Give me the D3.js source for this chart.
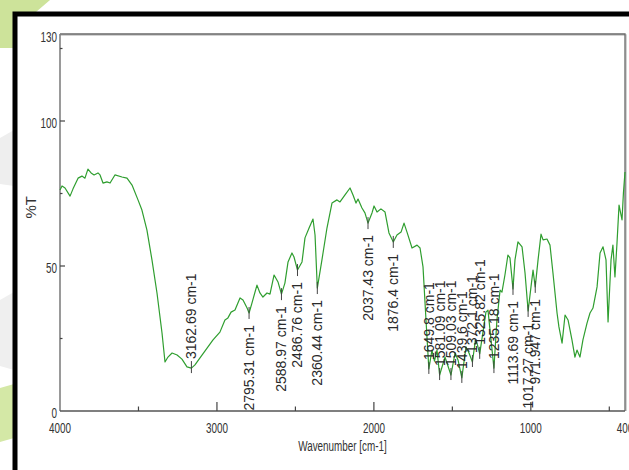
<!DOCTYPE html>
<html>
<head>
<meta charset="utf-8">
<script src="https://cdn.jsdelivr.net/npm/d3@7"></script>
<style>
body { margin: 0; background: #fff; }
svg { display: block; }
</style>
</head>
<body>
<svg id="chart" width="629" height="470"></svg>
<script>
// spectrum
var wavenumber = [4000, 3987, 3968, 3936, 3917, 3885, 3860, 3841, 3822, 3802, 3783, 3758, 3745, 3726, 3701, 3681,
  3650, 3605, 3573, 3541, 3503, 3478, 3446, 3414, 3382, 3350, 3331, 3312, 3286, 3254, 3223, 3191, 3162.69, 3140,
  3108, 3063, 3025, 2981, 2949, 2930, 2910, 2885, 2853, 2834, 2808, 2795.31, 2777, 2745, 2726, 2707, 2681, 2662,
  2636, 2611, 2588.97, 2567, 2547, 2522, 2509, 2486.76, 2458, 2439, 2413, 2388, 2375, 2360.44, 2331, 2299, 2267,
  2235, 2216, 2184, 2152, 2133, 2114, 2101, 2076, 2057, 2037.43, 2012, 1999, 1980, 1955, 1929, 1904, 1876.4, 1853,
  1827, 1808, 1789, 1757, 1725, 1706, 1687, 1668, 1649.8, 1630, 1614, 1598, 1581.09, 1547, 1509.03, 1483, 1464,
  1439.6, 1413, 1394, 1372.1, 1353, 1340, 1325.82, 1305, 1286, 1273, 1260, 1235.18, 1216, 1196, 1184, 1165, 1146,
  1133, 1113.69, 1101, 1082, 1056, 1037, 1017.27, 999, 986, 971.947, 954, 935, 922, 897, 878, 859, 833, 821, 801,
  782, 763, 738, 719, 706, 687, 668, 642, 623, 604, 578, 559, 540, 521, 508, 489, 477, 464, 451, 438, 419, 410, 400];
var transmittance = [76.2, 77.6, 76.9, 74.1, 76.6, 80.3, 81.0, 80.3, 83.4, 82.1, 81.4, 82.1, 81.4, 78.6, 79.0, 78.6,
  81.4, 80.7, 80.3, 77.9, 72.8, 69.3, 62.4, 52.1, 40.7, 26.9, 16.9, 18.6, 20.0, 19.3, 17.9, 15.2, 14.8, 15.9,
  18.3, 21.7, 24.5, 27.2, 31.4, 32.1, 34.1, 34.8, 39.0, 38.3, 35.5, 33.8, 37.2, 43.4, 40.7, 39.3, 40.7, 40.3,
  46.9, 44.5, 40.3, 44.1, 51.4, 54.5, 53.1, 48.6, 51.4, 59.7, 63.1, 66.2, 60.7, 42.4, 52.1, 63.1, 71.7,
  72.8, 72.1, 74.5, 76.9, 74.5, 71.7, 73.1, 70.0, 68.3, 64.8, 68.3, 70.7, 68.6, 69.7, 68.6, 61.4, 58.3, 60.7,
  61.7, 64.8, 61.7, 56.2, 57.2, 56.2, 49.7, 31.4, 14.5, 21.0, 17.2, 21.0, 12.4, 18.6, 12.4, 20.0, 17.6,
  11.4, 22.1, 20.0, 16.9, 24.5, 22.8, 19.7, 27.2, 34.1, 34.8, 27.9, 14.8, 31.4, 41.7, 41.0, 46.9, 53.8,
  52.8, 42.1, 52.1, 58.3, 56.6, 47.6, 34.5, 42.8, 48.6, 42.8, 52.1, 61.0, 59.0, 59.3, 57.2, 47.6, 33.8, 29.0, 23.4,
  33.1, 31.4, 24.5, 18.6, 21.0, 18.6, 24.5, 30.3, 33.8, 35.5, 42.8, 54.5, 56.6, 52.1, 30.7, 52.1, 57.2, 46.2, 57.9, 71.0, 65.9, 75.2, 82.4];

// picked peaks
var peakWn = [3162.69, 2795.31, 2588.97, 2486.76, 2360.44, 2037.43, 1876.4, 1649.8, 1581.09, 1509.03,
  1439.6, 1372.1, 1325.82, 1235.18, 1113.69, 1017.27, 971.947];
var peakLabels = ["3162.69 cm-1", "2795.31 cm-1", "2588.97 cm-1", "2486.76 cm-1", "2360.44 cm-1", "2037.43 cm-1",
  "1876.4 cm-1", "1649.8 cm-1", "1581.09 cm-1", "1509.03 cm-1", "1439.6 cm-1", "1372.1 cm-1", "1325.82 cm-1",
  "1235.18 cm-1", "1113.69 cm-1", "1017.27 cm-1", "971.947 cm-1"];
var peakSide = ["up", "down", "down", "down", "down", "down", "down", "up", "up", "up",
  "up", "up", "up", "up", "down", "down", "down"];

var yTicks = [0, 50, 100, 130];
var yMinor = [25, 75, 125];
var xTicks = [4000, 3000, 2000, 1000, 400];
var xMinor = [3500, 2500, 1500, 500];

var svg = d3.select("#chart");
var x = d3.scaleLinear().domain([4000, 400]).range([60, 625]);
var y = d3.scaleLinear().domain([0, 130]).range([411, 34]);

// slide background bits behind the picture
svg.append("path")
  .attr("d", "M0,0 H50 L36,12 L14,48 L0,48 Z")
  .attr("fill", "#cde39a");
svg.append("path")
  .attr("d", "M0,388 L14,384 L14,438 L0,442 Z")
  .attr("fill", "#d4e8a6");
svg.append("path")
  .attr("d", "M0,138 L14,130 L14,186 L0,184 Z")
  .attr("fill", "#eeeeee");
svg.append("path")
  .attr("d", "M0,300 L14,292 L14,370 L0,366 Z")
  .attr("fill", "#efefef");

svg.append("rect")
  .attr("x", 15).attr("y", 14)
  .attr("width", 700).attr("height", 600)
  .attr("fill", "#fff")
  .attr("stroke", "#000")
  .attr("stroke-width", 5);

var g = svg.append("g");

// frame
g.append("path")
  .attr("d", "M" + x(4000) + "," + (y(130) + 1) + " H" + (x(400) + 1) + " V" + y(0))
  .attr("fill", "none").attr("stroke", "#c4c4c4").attr("stroke-width", 1.5);
g.append("path")
  .attr("d", "M" + x(4000) + "," + y(130) + " H" + x(400) + " V" + y(0))
  .attr("fill", "none").attr("stroke", "#6a6a6a").attr("stroke-width", 1.3);

// axes lines
g.append("line")
  .attr("x1", x(4000)).attr("x2", x(4000))
  .attr("y1", y(130)).attr("y2", y(0))
  .attr("stroke", "#808080").attr("stroke-width", 1.6);
g.append("line")
  .attr("x1", x(4000)).attr("x2", x(400))
  .attr("y1", y(0)).attr("y2", y(0))
  .attr("stroke", "#555").attr("stroke-width", 1.6);

// y ticks, pointing in
g.selectAll(".ytick").data([50, 100]).enter().append("line")
  .attr("x1", x(4000)).attr("x2", x(4000) + 5)
  .attr("y1", function(d) { return y(d); }).attr("y2", function(d) { return y(d); })
  .attr("stroke", "#444").attr("stroke-width", 1.2);
g.selectAll(".yminor").data(yMinor).enter().append("line")
  .attr("x1", x(4000)).attr("x2", x(4000) + 2.5)
  .attr("y1", function(d) { return y(d); }).attr("y2", function(d) { return y(d); })
  .attr("stroke", "#444").attr("stroke-width", 1.2);

// x ticks, pointing up
g.selectAll(".xtick").data([3000, 2000, 1000]).enter().append("line")
  .attr("x1", function(d) { return x(d); }).attr("x2", function(d) { return x(d); })
  .attr("y1", y(0)).attr("y2", y(0) - 9)
  .attr("stroke", "#444").attr("stroke-width", 1.2);
g.selectAll(".xminor").data(xMinor).enter().append("line")
  .attr("x1", function(d) { return x(d); }).attr("x2", function(d) { return x(d); })
  .attr("y1", y(0)).attr("y2", y(0) - 4.5)
  .attr("stroke", "#444").attr("stroke-width", 1.2);

// tick labels (tall narrow face)
function squish(sel) {
  return sel.attr("font-family", "'Liberation Sans', Arial, sans-serif")
    .attr("font-size", 15)
    .attr("fill", "#333");
}
squish(g.selectAll(".ylab").data(yTicks).enter().append("text"))
  .attr("transform", function(d) { return "translate(57," + (y(d) + (d == 130 ? 3 : 1.5)) + ") scale(0.66,1)"; })
  .attr("text-anchor", "end")
  .attr("dy", "0.36em")
  .text(function(d) { return d; });
squish(g.selectAll(".xlab").data(xTicks).enter().append("text"))
  .attr("transform", function(d) { return "translate(" + x(d) + ",433) scale(0.66,1)"; })
  .attr("text-anchor", "middle")
  .text(function(d) { return d; });
squish(g.append("text"))
  .attr("transform", "translate(" + ((x(4000) + x(400)) / 2) + ",451) scale(0.66,1)")
  .attr("text-anchor", "middle")
  .text("Wavenumber [cm-1]");

g.append("text")
  .attr("transform", "translate(36," + (y(75) + 25) + ") rotate(-90)")
  .attr("font-family", "'Liberation Sans', Arial, sans-serif")
  .attr("font-size", 15)
  .attr("fill", "#333")
  .text("%T");

// spectrum
var points = wavenumber.map(function(w, i) { return [w, transmittance[i]]; });
var line = d3.line()
  .x(function(d) { return x(d[0]); })
  .y(function(d) { return y(d[1]); });
g.append("path")
  .datum(points)
  .attr("d", line)
  .attr("fill", "none")
  .attr("stroke", "#2f9e2f")
  .attr("stroke-width", 1.2)
  .attr("stroke-linejoin", "round");

// peak markers and labels
var peaks = peakWn.map(function(w, i) {
  return { wn: w, t: transmittance[wavenumber.indexOf(w)], label: peakLabels[i], side: peakSide[i] };
});
var pk = g.selectAll(".peak").data(peaks).enter().append("g")
  .attr("transform", function(d) { return "translate(" + x(d.wn) + "," + y(d.t) + ")"; });
pk.append("line")
  .attr("x1", 0).attr("x2", 0)
  .attr("y1", function(d) { return d.side == "up" ? -7 : -6; })
  .attr("y2", function(d) { return d.side == "up" ? 5 : 6; })
  .attr("stroke", "#444").attr("stroke-width", 1);
pk.append("text")
  .attr("transform", function(d) { return "translate(5," + (d.side == "up" ? -9 : 12) + ") rotate(-90)"; })
  .attr("text-anchor", function(d) { return d.side == "up" ? "start" : "end"; })
  .attr("font-family", "'Liberation Sans', Arial, sans-serif")
  .attr("font-size", 14)
  .attr("fill", "#2a2a2a")
  .text(function(d) { return d.label; });
</script>
</body>
</html>
